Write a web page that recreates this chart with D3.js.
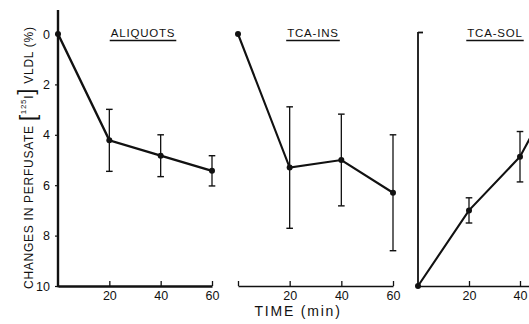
<!DOCTYPE html>
<html><head><meta charset="utf-8">
<script src="https://cdn.jsdelivr.net/npm/d3@7"></script>
<style>
body{margin:0;background:#fff;}
svg{display:block;font-family:"Liberation Sans",Arial,sans-serif;}
</style></head>
<body>
<svg id="c" width="529" height="324"></svg>
<script>
// ---- data ----
const times = [0, 20, 40, 60];
const panelTitles = ["ALIQUOTS", "TCA-INS", "TCA-SOL"];
const aliquotsMean = [0, 4.22, 4.83, 5.43];
const aliquotsErr  = [0, 1.23, 0.83, 0.6];
const tcaInsMean   = [0, 5.3, 5.0, 6.3];
const tcaInsErr    = [0, 2.41, 1.82, 2.3];
const tcaSolMean   = [10, 7.0, 4.87, 1.1];
const tcaSolErr    = [0, 0.5, 1.0, 1.0];
const yTicks = [0, 2, 4, 6, 8, 10];
const xTicks = [20, 40, 60];
const yLabel = "CHANGES IN PERFUSATE";
const xLabel = "TIME (min)";

const svg = d3.select("#c");
const ink = "#111";

const y = d3.scaleLinear().domain([0, 10]).range([34, 286]);
const xs = [
  d3.scaleLinear().domain([0, 60]).range([58, 212]),
  d3.scaleLinear().domain([0, 60]).range([238, 393]),
  d3.scaleLinear().domain([0, 60]).range([418, 571])
];
const series = [
  {mean: aliquotsMean, err: aliquotsErr},
  {mean: tcaInsMean, err: tcaInsErr},
  {mean: tcaSolMean, err: tcaSolErr}
];
const titleX = [143, 313, 495];

// x axes
xs.forEach((x, i) => {
  const vals = i === 1 ? [0].concat(xTicks) : xTicks;
  const g = svg.append("g").attr("transform", "translate(0," + y(10) + ")")
    .call(d3.axisBottom(x).tickValues(vals).tickSizeInner(-5).tickSizeOuter(0).tickPadding(5.5)
      .tickFormat(d => d === 0 ? "" : d));
  g.select(".domain").attr("stroke", ink).attr("stroke-width", i === 0 ? 2.4 : 1.6);
  g.selectAll(".tick line").attr("stroke", ink).attr("stroke-width", 1.3);
  g.selectAll(".tick text").attr("fill", ink).attr("font-size", 12.5).attr("font-family", "Liberation Sans, Arial, sans-serif");
});

// panel 1 y axis
const ya = svg.append("g").attr("transform", "translate(" + xs[0](0) + ",0)")
  .call(d3.axisLeft(y).tickValues(yTicks).tickSizeInner(3).tickSizeOuter(0).tickPadding(5));
ya.select(".domain").remove();
ya.selectAll(".tick line").attr("stroke", ink).attr("stroke-width", 1.2);
ya.selectAll(".tick text").attr("fill", ink).attr("font-size", 12.5).attr("font-family", "Liberation Sans, Arial, sans-serif");
svg.append("line").attr("x1", xs[0](0)).attr("x2", xs[0](0))
  .attr("y1", y(-0.95)).attr("y2", y(10) + 1.2).attr("stroke", ink).attr("stroke-width", 2.4);

// panel 3 y axis (bracket)
const yc = svg.append("g").attr("transform", "translate(" + xs[2](0) + ",0)")
  .call(d3.axisRight(y).tickValues([0]).tickSizeInner(5).tickSizeOuter(0).tickFormat(""));
yc.select(".domain").attr("stroke", ink).attr("stroke-width", 1.8).attr("d", "M0," + (y(0) - 2) + "V" + y(10));
yc.selectAll(".tick line").attr("stroke", ink).attr("stroke-width", 1.8).attr("transform", "translate(0,-2)");

// series
series.forEach((s, i) => {
  const x = xs[i];
  const g = svg.append("g");
  const pts = times.map((t, j) => ({t, m: s.mean[j], e: s.err[j]}));
  g.append("path").datum(pts)
    .attr("d", d3.line().x(d => x(d.t)).y(d => y(d.m)))
    .attr("fill", "none").attr("stroke", ink).attr("stroke-width", i === 0 ? 2.4 : 2.1);
  const eb = g.selectAll(".eb").data(pts.filter(d => d.e > 0)).enter().append("g");
  eb.append("line").attr("x1", d => x(d.t)).attr("x2", d => x(d.t))
    .attr("y1", d => y(d.m - d.e)).attr("y2", d => y(d.m + d.e))
    .attr("stroke", ink).attr("stroke-width", 1.3);
  [-1, 1].forEach(sg => {
    eb.append("line").attr("x1", d => x(d.t) - 3.3).attr("x2", d => x(d.t) + 3.3)
      .attr("y1", d => y(d.m + sg * d.e)).attr("y2", d => y(d.m + sg * d.e))
      .attr("stroke", ink).attr("stroke-width", 1.4);
  });
  g.selectAll("circle").data(pts).enter().append("circle")
    .attr("cx", d => x(d.t)).attr("cy", d => y(d.m)).attr("r", 3).attr("fill", ink);

  // title with underline
  const tt = svg.append("text").attr("x", titleX[i]).attr("y", 37).attr("text-anchor", "middle")
    .attr("font-size", 11.5).attr("letter-spacing", 0.8).attr("fill", ink).text(panelTitles[i]);
  const bb = tt.node().getBBox();
  svg.append("line").attr("x1", bb.x - 1).attr("x2", bb.x + bb.width + 1)
    .attr("y1", 40.5).attr("y2", 40.5).attr("stroke", ink).attr("stroke-width", 1.3);
});

// y label
const yl = svg.append("text").attr("transform", "translate(33,158) rotate(-90)")
  .attr("text-anchor", "middle").attr("fill", ink).attr("font-size", 12)
  .attr("textLength", 262).attr("lengthAdjust", "spacing");
yl.append("tspan").text(yLabel + " ");
yl.append("tspan").attr("font-size", 22).attr("dy", 2).text("[");
yl.append("tspan").attr("font-size", 8).attr("dy", -9).text("125");
yl.append("tspan").attr("font-size", 12).attr("dy", 7).text("I");
yl.append("tspan").attr("font-size", 22).attr("dy", 0).text("]");
yl.append("tspan").attr("dy", 0).text(" VLDL (%)");

// x label
svg.append("text").attr("x", 298).attr("y", 316).attr("text-anchor", "middle")
  .attr("font-size", 14).attr("letter-spacing", 1.8).attr("fill", ink).text(xLabel);
</script>
</body></html>
